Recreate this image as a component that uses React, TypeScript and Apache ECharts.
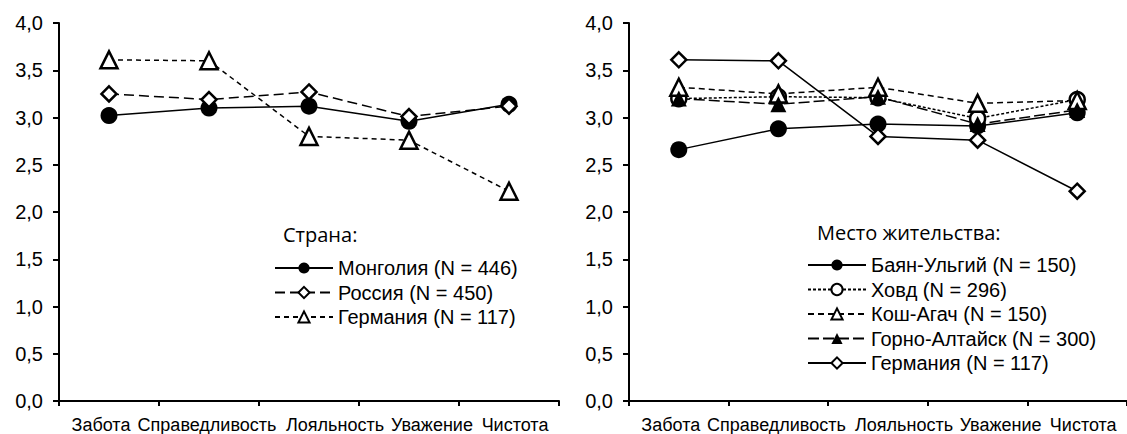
import React, { useEffect, useRef } from "react";
import * as echarts from "echarts";

const categories = ["Забота", "Справедливость", "Лояльность", "Уважение", "Чистота"];
const yTicks = [0, 0.5, 1, 1.5, 2, 2.5, 3, 3.5, 4];

const mongolia = [3.02, 3.1, 3.12, 2.96, 3.14];
const russia = [3.25, 3.19, 3.27, 3.01, 3.12];
const germany = [3.61, 3.6, 2.8, 2.76, 2.22];

const bayanUlgii = [2.66, 2.88, 2.93, 2.91, 3.05];
const khovd = [3.2, 3.22, 3.21, 2.99, 3.19];
const koshAgach = [3.32, 3.25, 3.32, 3.15, 3.18];
const gornoAltaysk = [3.2, 3.14, 3.22, 2.93, 3.08];

const leftNames = ["Монголия (N = 446)", "Россия (N = 450)", "Германия (N = 117)"];
const rightNames = [
  "Баян-Ульгий (N = 150)",
  "Ховд (N = 296)",
  "Кош-Агач (N = 150)",
  "Горно-Алтайск (N = 300)",
  "Германия (N = 117)",
];
const leftTitle = "Страна:";
const rightTitle = "Место жительства:";

const FONT = "Liberation Sans, Arial, sans-serif";
const labelShift = [-8, -2, 26, 23, 6];

export default function App() {
  const ref = useRef<HTMLDivElement>(null);
  useEffect(() => {
    const chart = echarts.init(ref.current!, null, { renderer: "svg" });
    const rich: any = {};
    labelShift.forEach((d, i) => {
      rich["c" + i] = {
        fontFamily: FONT,
        fontSize: 18,
        color: "#000",
        padding: d > 0 ? [0, 0, 0, 2 * d] : [0, -2 * d, 0, 0],
      };
    });
    const xAxisBase = (gridIndex: number) => ({
      type: "category",
      gridIndex,
      data: categories,
      boundaryGap: true,
      axisLine: { lineStyle: { color: "#000", width: 2 } },
      axisTick: { show: true, length: 5, lineStyle: { color: "#000", width: 2 } },
      axisLabel: {
        interval: 0,
        margin: 15,
        formatter: (v: string, i: number) => `{c${i}|${v}}`,
        rich,
      },
      splitLine: { show: false },
    });
    const yAxisBase = (gridIndex: number) => ({
      type: "value",
      gridIndex,
      min: 0,
      max: 4,
      interval: 0.5,
      axisLine: { show: true, lineStyle: { color: "#000", width: 2 } },
      axisTick: { show: true, length: 6, lineStyle: { color: "#000", width: 2 } },
      axisLabel: {
        margin: 16,
        fontFamily: FONT,
        fontSize: 20,
        color: "#000",
        formatter: (v: number) => (yTicks.includes(v) ? v.toFixed(1).replace(".", ",") : ""),
      },
      splitLine: { show: false },
    });

    const mk = (
      name: string,
      data: number[],
      idx: number,
      symbol: string,
      size: number | number[],
      filled: boolean,
      dash: any
    ) => ({
      type: "line",
      name,
      data,
      xAxisIndex: idx,
      yAxisIndex: idx,
      symbol,
      symbolSize: size,
      showAllSymbol: true,
      lineStyle: { color: "#000", width: 1.5, type: dash },
      itemStyle: {
        color: filled ? "#000" : "#fff",
        borderColor: "#000",
        borderWidth: filled ? 0 : 2.5,
      },
      emphasis: { disabled: true },
    });

    const legendBase = {
      orient: "vertical",
      padding: 0,
      itemWidth: 58,
      itemHeight: 14,
      itemGap: 4.5,
      selectedMode: false,
      textStyle: { fontFamily: FONT, fontSize: 20, lineHeight: 20, color: "#000" },
    };

    chart.setOption({
      animation: false,
      backgroundColor: "#fff",
      grid: [
        { left: 59, top: 23, width: 500, height: 378 },
        { left: 629, top: 23, width: 500, height: 378 },
      ],
      xAxis: [xAxisBase(0), xAxisBase(1)],
      yAxis: [yAxisBase(0), yAxisBase(1)],
      legend: [
        { ...legendBase, left: 274, top: 258, data: leftNames.map((n) => "L" + n), formatter: (n: string) => n.slice(1) },
        { ...legendBase, left: 807, top: 255, data: rightNames.map((n) => "R" + n), formatter: (n: string) => n.slice(1) },
      ],
      graphic: [
        {
          type: "text",
          left: 283,
          top: 224,
          style: { text: leftTitle, fontFamily: "Open Sans, sans-serif", fontSize: 20, fill: "#000" },
        },
        {
          type: "text",
          left: 817,
          top: 222,
          style: { text: rightTitle, fontFamily: "Open Sans, sans-serif", fontSize: 20, fill: "#000" },
        },
      ],
      series: [
        mk("L" + leftNames[0], mongolia, 0, "circle", 17, true, "solid"),
        mk("L" + leftNames[1], russia, 0, "diamond", 15, false, [10, 5]),
        mk("L" + leftNames[2], germany, 0, "triangle", 17, false, [5, 4]),
        mk("R" + rightNames[0], bayanUlgii, 1, "circle", 17, true, "solid"),
        mk("R" + rightNames[1], khovd, 1, "circle", 15, false, [3, 2]),
        mk("R" + rightNames[2], koshAgach, 1, "triangle", 17, false, [6, 4]),
        mk("R" + rightNames[3], gornoAltaysk, 1, "triangle", 16, true, [11, 4]),
        mk("R" + rightNames[4], germany, 1, "diamond", 15, false, "solid"),
      ],
    });
    return () => chart.dispose();
  }, []);
  return (
    <div
      ref={ref}
      style={{ position: "fixed", left: 0, top: 0, width: 1127, height: 434, background: "#fff" }}
    />
  );
}
